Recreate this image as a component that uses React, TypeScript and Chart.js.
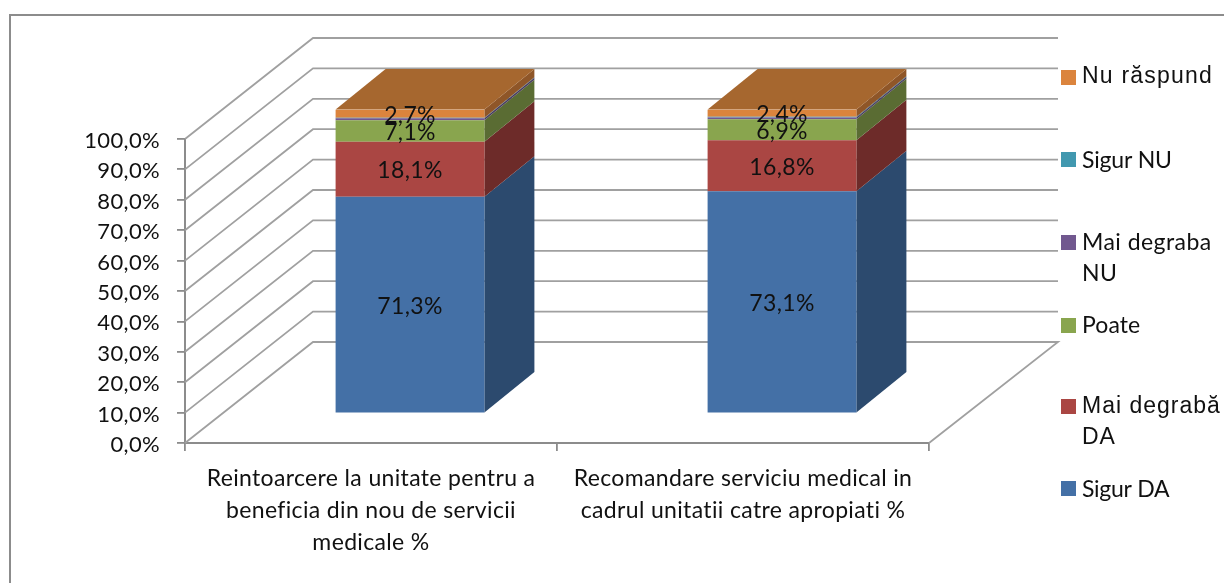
import React, { useEffect, useRef } from "react";
import { Chart, registerables } from "chart.js";

Chart.register(...registerables);

const categories = [
  ["Reintoarcere la unitate pentru a", "beneficia din nou de servicii", "medicale %"],
  ["Recomandare serviciu medical in", "cadrul unitatii catre apropiati %"],
];
const sigurDa = [71.3, 73.1];
const maiDegrabaDa = [18.1, 16.8];
const poate = [7.1, 6.9];
const maiDegrabaNu = [0.6, 0.6];
const sigurNu = [0.2, 0.2];
const nuRaspund = [2.7, 2.4];

const FONT = "Lato";
const WALL = "#a0a0a0";
const AXIS = "#8c8c8c";
// 3D projection: room depth, bar offset inside it, bar depth
const ROOM = { dx: 128, dy: -101 };
const BAR_OFF = { dx: 39, dy: -29.5 };
const BAR_D = { dx: 50, dy: -40.5 };

const series = [
  { label: "Sigur DA", data: sigurDa, color: "#4470a6", side: "#2c4a6e", top: "#4470a6", show: true },
  { label: "Mai degrabă DA", data: maiDegrabaDa, color: "#aa4643", side: "#6d2b29", top: "#aa4643", show: true },
  { label: "Poate", data: poate, color: "#89a54e", side: "#5a6c33", top: "#89a54e", show: true },
  { label: "Mai degraba NU", data: maiDegrabaNu, color: "#71588f", side: "#4a3a5e", top: "#71588f", show: false },
  { label: "Sigur NU", data: sigurNu, color: "#4198af", side: "#2b6373", top: "#4198af", show: false },
  { label: "Nu răspund", data: nuRaspund, color: "#db843d", side: "#8f5628", top: "#a6672f", show: true },
];

const legendRows = [
  { series: 5, lines: ["Nu răspund"], box: 70, text: [77], font: "Liberation Sans", size: 23, spacing: 1.2 },
  { series: 4, lines: ["Sigur NU"], box: 152, text: [161], font: FONT, size: 23, spacing: -0.2 },
  { series: 3, lines: ["Mai degraba", "NU"], box: 235, text: [243, 274], font: FONT, size: 23, spacing: 0.45 },
  { series: 2, lines: ["Poate"], box: 318, text: [326], font: FONT, size: 23, spacing: 0.1 },
  { series: 1, lines: ["Mai degrabă", "DA"], box: 399, text: [407, 438], font: "Liberation Sans", size: 23, spacing: 1 },
  { series: 0, lines: ["Sigur DA"], box: 481, text: [490], font: FONT, size: 23, spacing: -0.3 },
];

const fmt = (v: number) => v.toFixed(1).replace(".", ",") + "%";

const poly = (ctx: CanvasRenderingContext2D, pts: number[][], fill: string) => {
  ctx.beginPath();
  pts.forEach((p, i) => (i ? ctx.lineTo(p[0], p[1]) : ctx.moveTo(p[0], p[1])));
  ctx.closePath();
  ctx.fillStyle = fill;
  ctx.fill();
};

const room3d = {
  id: "room3d",
  afterUpdate(chart: any) {
    chart.scales.y.getLabelItems().forEach((it: any) => {
      it.options.translation = [it.options.translation[0], it.options.translation[1] + 2];
    });
  },
  beforeDraw(chart: any) {
    const ctx = chart.ctx;
    ctx.save();
    ctx.strokeStyle = "#8c8c8c";
    ctx.lineWidth = 2;
    ctx.beginPath();
    ctx.moveTo(10, 583);
    ctx.lineTo(10, 15);
    ctx.lineTo(1224, 15);
    ctx.stroke();
    ctx.restore();
    ctx.letterSpacing = "0.35px";
  },
  beforeDatasetsDraw(chart: any) {
    const { ctx, chartArea: a, scales } = chart;
    const y = scales.y;
    ctx.save();
    ctx.strokeStyle = WALL;
    ctx.lineWidth = 1.8;
    y.ticks.forEach((t: any) => {
      const py = y.getPixelForValue(t.value);
      ctx.beginPath();
      ctx.moveTo(a.left, py);
      ctx.lineTo(a.left + ROOM.dx, py + ROOM.dy);
      ctx.lineTo(a.right + ROOM.dx + 1, py + ROOM.dy);
      if (t.value === 0) ctx.lineTo(a.right, py);
      ctx.stroke();
    });
    // sides and tops of the bars
    chart.data.datasets.forEach((_: any, di: number) => {
      chart.getDatasetMeta(di).data.forEach((el: any) => {
        const p = el.getProps(["x", "y", "base", "width"], true);
        const l = p.x - p.width / 2 + BAR_OFF.dx;
        const r = p.x + p.width / 2 + BAR_OFF.dx;
        const t = p.y + BAR_OFF.dy;
        const b = p.base + BAR_OFF.dy;
        const s = series[di];
        poly(ctx, [[r, t], [r + BAR_D.dx, t + BAR_D.dy], [r + BAR_D.dx, b + BAR_D.dy], [r, b]], s.side);
        if (di === series.length - 1) {
          poly(ctx, [[l, t], [l + BAR_D.dx, t + BAR_D.dy], [r + BAR_D.dx, t + BAR_D.dy], [r, t]], s.top);
        }
      });
    });
    ctx.restore();
    ctx.save();
    ctx.translate(BAR_OFF.dx, BAR_OFF.dy);
  },
  afterDatasetsDraw(chart: any) {
    const ctx = chart.ctx;
    ctx.restore();
    ctx.save();
    ctx.font = `23px ${FONT}`;
    ctx.fillStyle = "#111";
    ctx.textAlign = "center";
    ctx.textBaseline = "middle";
    chart.data.datasets.forEach((ds: any, di: number) => {
      if (!series[di].show) return;
      chart.getDatasetMeta(di).data.forEach((el: any, i: number) => {
        const p = el.getProps(["x", "y", "base"], true);
        ctx.fillText(fmt(ds.data[i]), p.x + BAR_OFF.dx, (p.y + p.base) / 2 + BAR_OFF.dy + 1.5);
      });
    });
    // legend
    ctx.textAlign = "left";
    legendRows.forEach((row) => {
      ctx.fillStyle = series[row.series].color;
      ctx.fillRect(1061, row.box, 15, 15);
      ctx.fillStyle = "#111";
      ctx.font = `${row.size}px "${row.font}"`;
      ctx.letterSpacing = `${row.spacing}px`;
      row.lines.forEach((ln, i) => ctx.fillText(ln, 1082, row.text[i]));
    });
    ctx.restore();
  },
};

export default function App() {
  const ref = useRef<HTMLCanvasElement>(null);
  useEffect(() => {
    document.body.style.margin = "0";
    const chart = new Chart(ref.current!, {
      type: "bar",
      data: {
        labels: categories as any,
        datasets: series.map((s) => ({
          label: s.label,
          data: s.data,
          backgroundColor: s.color,
          barPercentage: 0.4,
          categoryPercentage: 1,
        })),
      },
      plugins: [room3d],
      options: {
        animation: false,
        responsive: false,
        layout: { padding: { top: 139, right: 295, left: 0, bottom: 0 } },
        plugins: { legend: { display: false }, tooltip: { enabled: false } },
        scales: {
          x: {
            stacked: true,
            afterFit: (s: any) => { s.height = 140; },
            border: { color: AXIS, width: 2 },
            grid: { offset: true, drawOnChartArea: false, color: AXIS, lineWidth: 1.8, tickLength: 8 },
            ticks: { maxRotation: 0, autoSkip: false, padding: 12, color: "#111", font: { family: FONT, size: 23, lineHeight: 32 / 23 } },
          },
          y: {
            stacked: true,
            min: 0,
            max: 100,
            afterFit: (s: any) => { s.width = 185; },
            border: { color: AXIS, width: 2 },
            grid: { drawOnChartArea: false, color: AXIS, lineWidth: 1.8, tickLength: 8 },
            ticks: { stepSize: 10, padding: 17, color: "#111", font: { family: FONT, size: 22 }, callback: (v: any) => fmt(Number(v)) },
          },
        },
      },
    } as any);
    return () => chart.destroy();
  }, []);
  return <canvas ref={ref} width={1224} height={583} style={{ display: "block", filter: "blur(0.5px)" }} />;
}
